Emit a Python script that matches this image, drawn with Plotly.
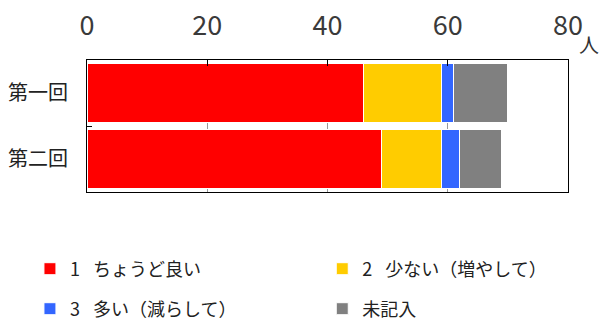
import plotly.graph_objects as go

categories = ["第一回", "第二回"]
series_names = ["1\u2002\u00a0ちょうど良い", "2\u2002\u00a0少ない（増やして）",
                "3\u2002\u00a0多い（減らして）", "未記入"]
series_colors = ["#FF0000", "#FFCC00", "#3366FF", "#808080"]
v_good = [46, 49]
v_few = [13, 10]
v_many = [2, 3]
v_none = [9, 7]
x_ticks = [0, 20, 40, 60, 80]

values = [v_good, v_few, v_many, v_none]
legend_ids = ["legend", "legend2", "legend3", "legend4"]

FONT = "Noto Sans CJK JP"
NUMFONT = "Noto Sans CJK JP"
fig = go.Figure()
for name, vals, col, lg in zip(series_names, values, series_colors, legend_ids):
    fig.add_trace(go.Bar(
        y=categories, x=vals, name=name, orientation="h",
        marker=dict(color=col, line=dict(color="white", width=1)),
        legend=lg, showlegend=True,
    ))

leg_font = dict(size=18, color="#222", family=FONT)
leg_pos = {"legend": (0.050, 0.1646), "legend2": (0.538, 0.1646),
           "legend3": (0.050, 0.0404), "legend4": (0.538, 0.0404)}
legend_layout = {}
for k, (lx, ly) in leg_pos.items():
    legend_layout[k] = dict(orientation="h", x=lx, y=ly, xref="container", yref="container",
                            xanchor="left", yanchor="middle", font=leg_font,
                            bgcolor="rgba(0,0,0,0)", visible=True)

fig.update_layout(
    barmode="stack",
    bargap=0.1,
    showlegend=True,
    width=599, height=322,
    margin=dict(l=87, r=31, t=60, b=130, autoexpand=False),
    paper_bgcolor="white", plot_bgcolor="white",
    font=dict(family=FONT, color="#222"),
    xaxis=dict(
        side="top", range=[0, 80], tickvals=x_ticks,
        ticks="inside", ticklen=6, tickcolor="black",
        showline=True, linecolor="black", linewidth=1, mirror=True,
        showgrid=True, gridcolor="#999999", gridwidth=1,
        tickfont=dict(size=27, color="#3a3a3a", family=NUMFONT),
        ticklabelstandoff=13, zeroline=False, automargin=False,
    ),
    yaxis=dict(
        autorange="reversed", tickson="boundaries",
        ticks="inside", ticklen=5, tickcolor="black",
        showline=True, linecolor="black", linewidth=1, mirror=True,
        showgrid=False,
        tickfont=dict(size=20, color="#222", family=FONT),
        ticklabelstandoff=14, automargin=False,
    ),
    annotations=[dict(text="人", xref="paper", yref="paper", x=1.0, y=1.0,
                      xanchor="center", yanchor="middle",
                      xshift=21, yshift=16, showarrow=False,
                      font=dict(size=20, color="#333", family=FONT))],
    **legend_layout,
)

fig.write_html("out.html")
